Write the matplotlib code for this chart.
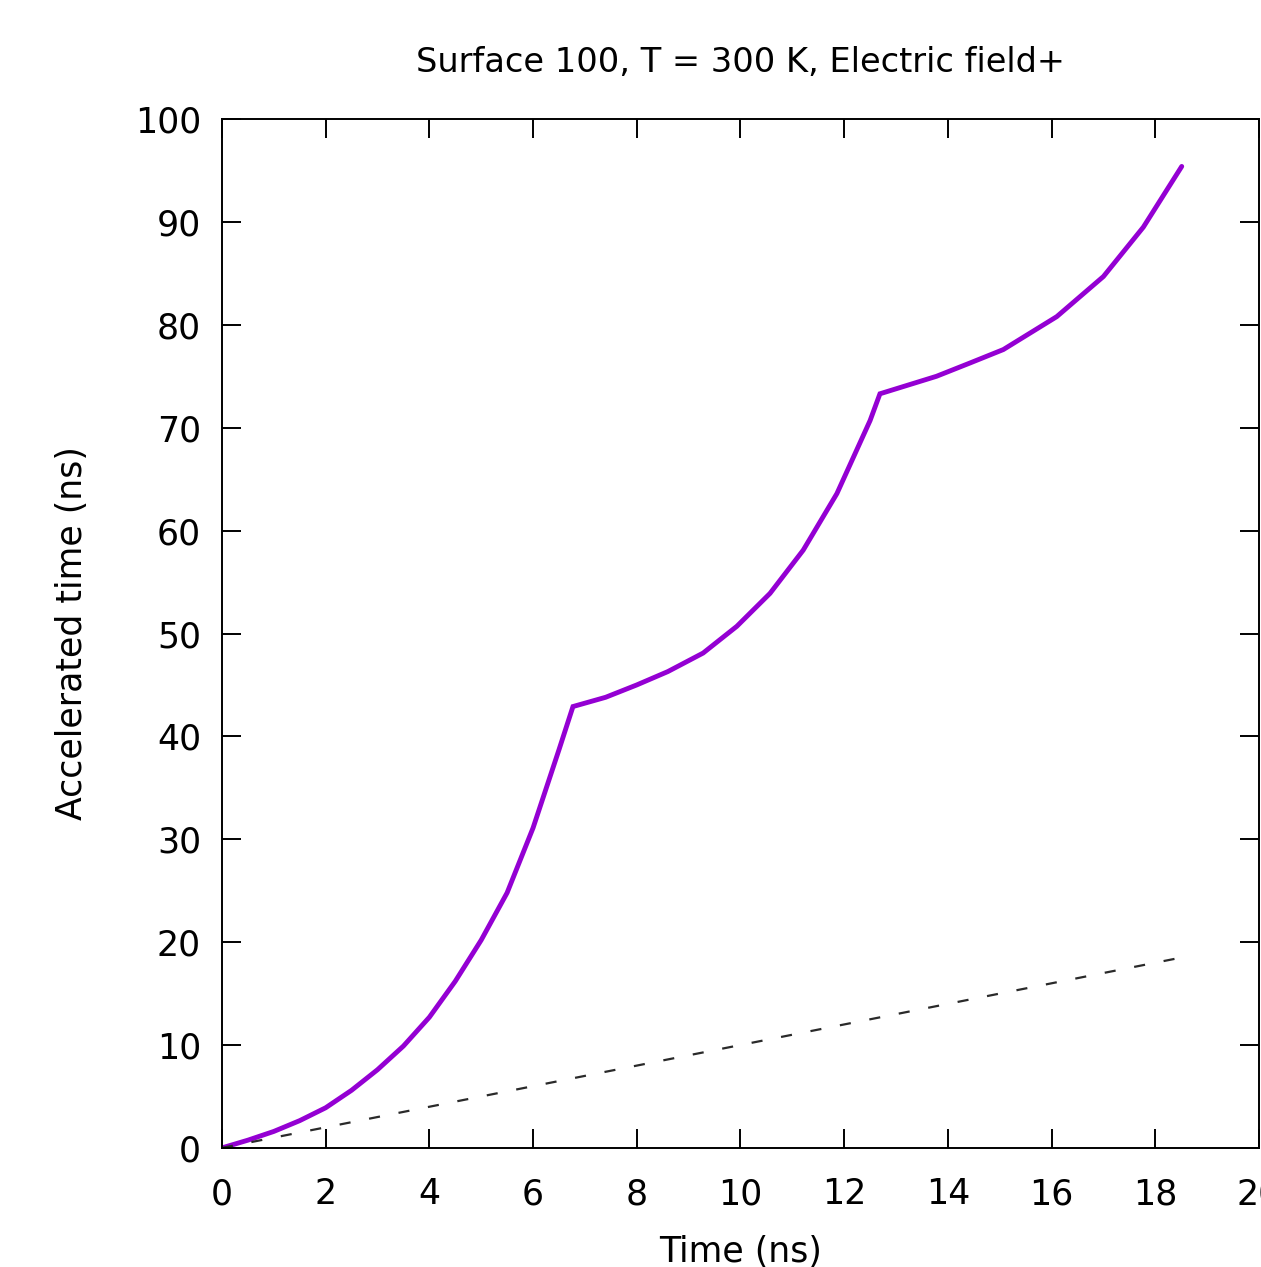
import numpy as np
import matplotlib.pyplot as plt

# ================================
# DATA
# ================================
time_ns = [0, 0.5, 1.0, 1.5, 2.0, 2.5, 3.0, 3.5, 4.0, 4.5, 5.0, 5.5, 6.0, 6.5, 6.77,
           7.4, 8.0, 8.6, 9.28, 9.93, 10.57, 11.21, 11.86, 12.5, 12.69,
           13.78, 14.43, 15.07, 16.1, 17.0, 17.77, 18.51]
accel_ns = [0, 0.75, 1.6, 2.65, 3.9, 5.6, 7.6, 9.9, 12.7, 16.2, 20.2, 24.8, 31.1, 38.7, 42.9,
            43.8, 45.0, 46.3, 48.1, 50.7, 53.9, 58.1, 63.6, 70.7, 73.3,
            75.0, 76.3, 77.6, 80.8, 84.7, 89.5, 95.4]

ref_x = [0, 18.5]
ref_y = [0, 18.5]

xticks = list(range(0, 21, 2))
yticks = list(range(0, 101, 10))

# ================================
# PLOT
# ================================
plt.rcParams['font.family'] = 'DejaVu Sans'
fs = 25

fig = plt.figure(figsize=(12.61, 12.67), dpi=100)
ax = fig.add_axes([0.176, 0.094, 0.8224, 0.812])

ax.plot(time_ns, accel_ns, color='#9400D3', lw=3.5,
        solid_joinstyle='miter', solid_capstyle='round')
ax.plot(ref_x, ref_y, color='#2a2a2a', lw=1.6, dashes=(5, 8.5))

ax.set_xlim(0, 20)
ax.set_ylim(0, 100)
ax.set_xticks(xticks)
ax.set_yticks(yticks)
ax.tick_params(direction='in', length=14, width=1.4, top=True, right=True,
               labelsize=fs, colors='black')
ax.tick_params(axis='y', pad=15)
ax.tick_params(axis='x', pad=21)
for s in ax.spines.values():
    s.set_linewidth(1.4)

ax.set_xlabel("Time (ns)", fontsize=fs, labelpad=17)
ax.set_ylabel("Accelerated time (ns)", fontsize=fs, labelpad=33)
ax.set_title("Surface 100, T = 300 K, Electric field+", fontsize=24.2, pad=34)

fig.savefig("out.png", dpi=100)
